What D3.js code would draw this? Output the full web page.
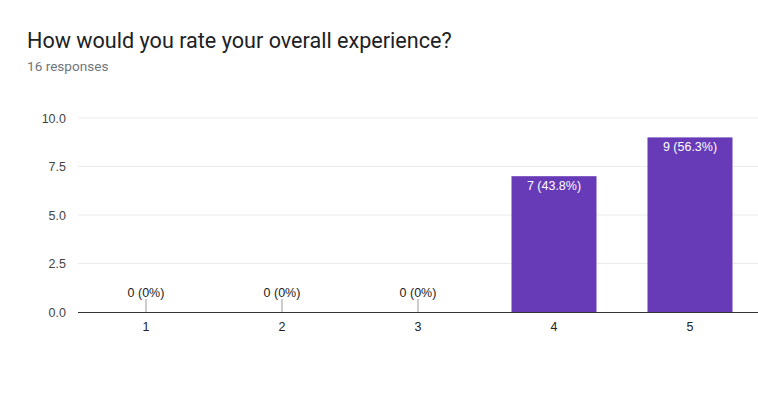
<!DOCTYPE html>
<html>
<head>
<meta charset="utf-8">
<script src="https://cdn.jsdelivr.net/npm/d3@7"></script>
<style>
  body { margin: 0; background: #fff; }
  text { font-family: Roboto, "Noto Sans", Arial, sans-serif; }
  .chart-text { font-family: "Liberation Sans", Arial, sans-serif; }
</style>
</head>
<body>
<div id="chart"></div>
<script>
const title = "How would you rate your overall experience?";
const subtitle = "16 responses";
const categories = ["1", "2", "3", "4", "5"];
const counts = [0, 0, 0, 7, 9];
const labels = ["0 (0%)", "0 (0%)", "0 (0%)", "7 (43.8%)", "9 (56.3%)"];
const yTicks = [0, 2.5, 5, 7.5, 10];

const width = 758, height = 393;
const plotLeft = 78, plotRight = 758, plotTop = 118, plotBottom = 312;

const svg = d3.select("#chart")
  .append("svg")
  .attr("width", width)
  .attr("height", height);

svg.append("text")
  .attr("x", 27).attr("y", 48)
  .attr("font-size", 21.6)
  .attr("fill", "#202124")
  .text(title);

svg.append("text")
  .attr("x", 27).attr("y", 71)
  .attr("font-size", 13.6)
  .attr("fill", "#70757a")
  .text(subtitle);

const x = d3.scaleBand()
  .domain(categories)
  .range([plotLeft, plotRight])
  .paddingInner(0.375)
  .paddingOuter(0.1875);

const y = d3.scaleLinear()
  .domain([0, 10])
  .range([plotBottom, plotTop]);

// grid lines
svg.append("g")
  .selectAll("line")
  .data(yTicks.filter(d => d > 0))
  .enter()
  .append("line")
  .attr("x1", plotLeft).attr("x2", plotRight)
  .attr("y1", d => y(d)).attr("y2", d => y(d))
  .attr("stroke", "#ebebeb");

// y axis labels
svg.append("g")
  .attr("transform", "translate(" + plotLeft + ",0)")
  .call(d3.axisLeft(y).tickValues(yTicks).tickFormat(d3.format(".1f")).tickSize(0).tickPadding(12))
  .call(g => g.select(".domain").remove())
  .selectAll("text")
  .attr("class", "chart-text")
  .attr("font-size", 12.5)
  .attr("fill", "#444");

// bars
svg.append("g")
  .selectAll("rect")
  .data(counts)
  .enter()
  .append("rect")
  .attr("x", (d, i) => x(categories[i]))
  .attr("y", d => y(d))
  .attr("width", x.bandwidth())
  .attr("height", d => plotBottom - y(d))
  .attr("fill", "#673ab7");

// small stems for zero values
svg.append("g")
  .selectAll("line")
  .data(counts.map((d, i) => [d, i]).filter(p => p[0] === 0))
  .enter()
  .append("line")
  .attr("x1", p => x(categories[p[1]]) + x.bandwidth() / 2)
  .attr("x2", p => x(categories[p[1]]) + x.bandwidth() / 2)
  .attr("y1", plotBottom - 13).attr("y2", plotBottom)
  .attr("stroke", "#999");

// value labels
svg.append("g")
  .selectAll("text")
  .data(counts)
  .enter()
  .append("text")
  .attr("class", "chart-text")
  .attr("x", (d, i) => x(categories[i]) + x.bandwidth() / 2)
  .attr("y", d => d === 0 ? plotBottom - 15 : y(d) + 14)
  .attr("text-anchor", "middle")
  .attr("font-size", 12.5)
  .attr("fill", d => d === 0 ? "#222" : "#fff")
  .text((d, i) => labels[i]);

// x axis
svg.append("g")
  .attr("transform", "translate(0," + plotBottom + ")")
  .call(d3.axisBottom(x).tickSize(0).tickPadding(10))
  .call(g => g.select(".domain").attr("stroke", "#333").attr("d", "M" + plotLeft + ",0.5H" + plotRight))
  .selectAll("text")
  .attr("class", "chart-text")
  .attr("font-size", 12.5)
  .attr("fill", "#222");
</script>
</body>
</html>
